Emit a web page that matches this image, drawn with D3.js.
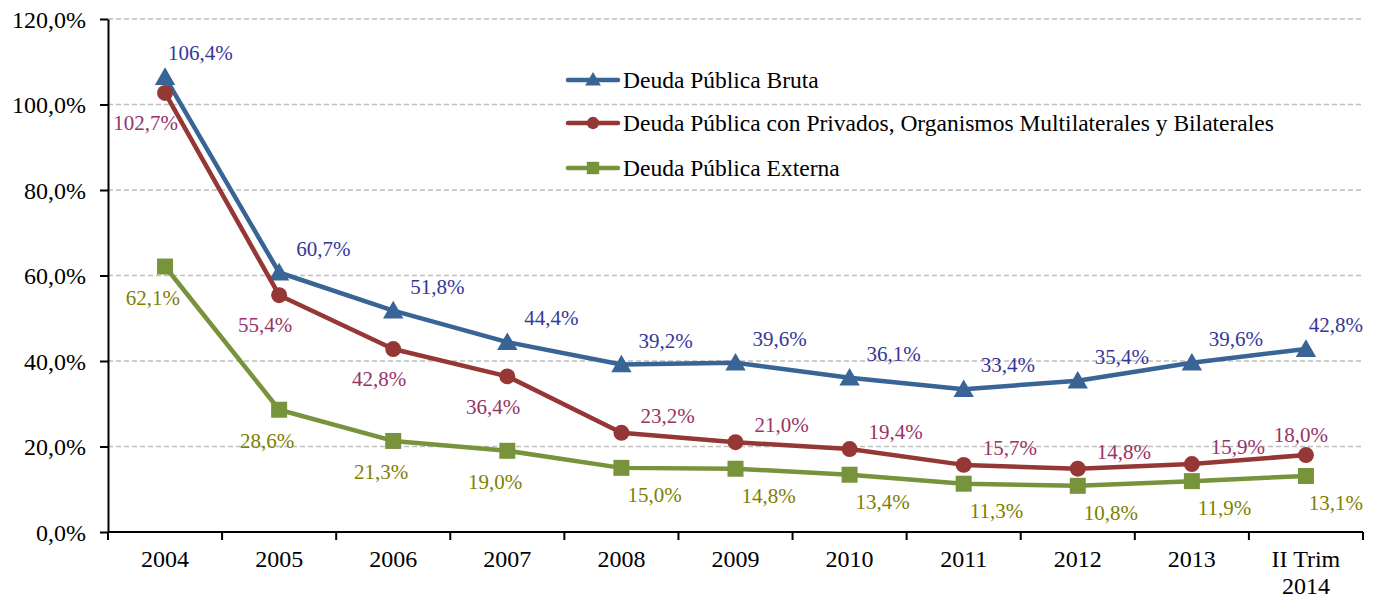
<!DOCTYPE html>
<html lang="es">
<head>
    <meta charset="UTF-8">
    <title>Deuda Pública</title>
    <script src="https://d3js.org/d3.v7.min.js"></script>
    <style>
        body {
            margin: 0;
            padding: 0;
            background-color: white;
        }
        svg { display: block; }
        svg text { font-family: "Liberation Serif", "Times New Roman", Times, "DejaVu Serif", serif; }
        .grid line { stroke: #bfbfbf; stroke-width: 1.3; stroke-dasharray: 5,3; }
        .axis text { font-size: 24px; fill: #000; }
        .axis path, .axis line { stroke: #000; stroke-width: 2; }
    </style>
</head>
<body>
    <svg id="chart" width="1378" height="601"></svg>

    <script>
        // datos
        const categories = ["2004", "2005", "2006", "2007", "2008", "2009", "2010", "2011", "2012", "2013", "II Trim 2014"];
        const bruta    = [106.4, 60.7, 51.8, 44.4, 39.2, 39.6, 36.1, 33.4, 35.4, 39.6, 42.8];
        const privados = [102.7, 55.4, 42.8, 36.4, 23.2, 21.0, 19.4, 15.7, 14.8, 15.9, 18.0];
        const externa  = [62.1, 28.6, 21.3, 19.0, 15.0, 14.8, 13.4, 11.3, 10.8, 11.9, 13.1];
        const seriesNames = [
            "Deuda Pública Bruta",
            "Deuda Pública con Privados, Organismos Multilaterales y Bilaterales",
            "Deuda Pública Externa"
        ];
        const yTicks = [0, 20, 40, 60, 80, 100, 120];

        const plotLeft = 108, plotRight = 1363, plotTop = 19, plotBottom = 532;

        const svg = d3.select("#chart");

        const x = d3.scaleBand().domain(categories).range([plotLeft, plotRight]).padding(0);
        const y = d3.scaleLinear().domain([0, 120]).range([plotBottom, plotTop]);
        const cx = c => x(c) + x.bandwidth() / 2;
        const fmt = v => d3.format(".1f")(v).replace(".", ",") + "%";

        // líneas de cuadrícula
        svg.append("g").attr("class", "grid")
           .selectAll("line")
           .data(yTicks.filter(d => d > 0))
           .enter().append("line")
           .attr("x1", plotLeft).attr("x2", plotRight)
           .attr("y1", d => y(d)).attr("y2", d => y(d));

        // eje Y
        const yAxis = svg.append("g").attr("class", "axis")
            .attr("transform", "translate(" + plotLeft + ",0)")
            .call(d3.axisLeft(y).tickValues(yTicks).tickFormat(fmt).tickSize(8).tickSizeOuter(0).tickPadding(14));
        yAxis.attr("font-family", null).attr("font-size", null);
        yAxis.selectAll("text").attr("dy", "0.34em");

        // eje X
        const xAxis = svg.append("g").attr("class", "axis");
        xAxis.append("line")
             .attr("x1", plotLeft).attr("x2", plotRight)
             .attr("y1", y(0)).attr("y2", y(0));
        const bounds = categories.map(c => x(c)).concat([x(categories[categories.length - 1]) + x.bandwidth()]);
        xAxis.selectAll(".tk").data(bounds).enter().append("line")
             .attr("x1", d => d).attr("x2", d => d)
             .attr("y1", y(0)).attr("y2", y(0) + 8);
        const xl = xAxis.selectAll(".xl").data(categories).enter().append("text")
             .attr("text-anchor", "middle")
             .attr("x", d => cx(d))
             .attr("y", y(0) + 35);
        xl.each(function(d) {
            const parts = d === "II Trim 2014" ? ["II Trim", "2014"] : [d];
            const t = d3.select(this);
            parts.forEach((p, i) => {
                t.append("tspan").attr("x", cx(d)).attr("dy", i === 0 ? 0 : 27).text(p);
            });
        });

        const series = [
            { name: seriesNames[0], values: bruta,    color: "#386496", label: "#35379a", marker: d3.symbolTriangle, size: 180 },
            { name: seriesNames[1], values: privados, color: "#953735", label: "#993366", marker: d3.symbolCircle,   size: 200 },
            { name: seriesNames[2], values: externa,  color: "#77933c", label: "#808000", marker: d3.symbolSquare,   size: 256 }
        ];

        const line = d3.line()
            .x((d, i) => cx(categories[i]))
            .y(d => y(d));

        series.forEach(s => {
            svg.append("path")
               .datum(s.values)
               .attr("fill", "none")
               .attr("stroke", s.color)
               .attr("stroke-width", 4.5)
               .attr("stroke-linejoin", "round")
               .attr("d", line);

            svg.append("g").selectAll("path")
               .data(s.values)
               .enter().append("path")
               .attr("transform", (d, i) => "translate(" + cx(categories[i]) + "," + (y(d) + (s.marker === d3.symbolTriangle ? 2 : 0)) + ")")
               .attr("d", d3.symbol(s.marker, s.size))
               .attr("fill", s.color);
        });

        // etiquetas de datos
        const last = categories.length - 1;
        function labelPos(si, i) {
            if (si === 0) return { anchor: "start", dx: i === 0 ? 3 : 17, dy: -24 };
            if (si === 1) {
                if (i < 4) return { anchor: "end", dx: 13, dy: 30 };
                if (i === last) return { anchor: "end", dx: 22, dy: -20 };
                return { anchor: "start", dx: 19, dy: -17 };
            }
            return i < 4 ? { anchor: "end", dx: 15, dy: 31 } : { anchor: "start", dx: 6, dy: 27 };
        }

        series.forEach((s, si) => {
            svg.append("g").selectAll("text")
               .data(s.values)
               .enter().append("text")
               .text(d => fmt(d))
               .attr("font-size", 21)
               .attr("fill", s.label)
               .each(function(d, i) {
                   const p = labelPos(si, i);
                   let px = cx(categories[i]) + p.dx;
                   const w = this.getComputedTextLength();
                   const t = d3.select(this);
                   if (p.anchor === "start" && px + w > plotRight) px = plotRight - w;
                   t.attr("text-anchor", p.anchor)
                    .attr("x", px)
                    .attr("y", y(d) + p.dy)
                    .attr("dy", "0.34em");
               });
        });

        // leyenda
        const legend = svg.append("g").attr("transform", "translate(568,80)");
        const items = legend.selectAll("g").data(series).enter().append("g")
            .attr("transform", (d, i) => "translate(0," + [0, 43, 88][i] + ")");
        items.append("line")
             .attr("x1", 0).attr("x2", 50)
             .attr("stroke", d => d.color)
             .attr("stroke-width", 4.5)
             .attr("stroke-linecap", "round");
        items.append("path")
             .attr("transform", d => "translate(25," + (d.marker === d3.symbolTriangle ? 1 : 0) + ")")
             .attr("d", d => d3.symbol(d.marker, d.size * 0.6)())
             .attr("fill", d => d.color);
        items.append("text")
             .attr("x", 55)
             .attr("dy", "0.34em")
             .attr("font-size", 23.5)
             .attr("fill", "#000")
             .text(d => d.name);
    </script>
</body>
</html>
